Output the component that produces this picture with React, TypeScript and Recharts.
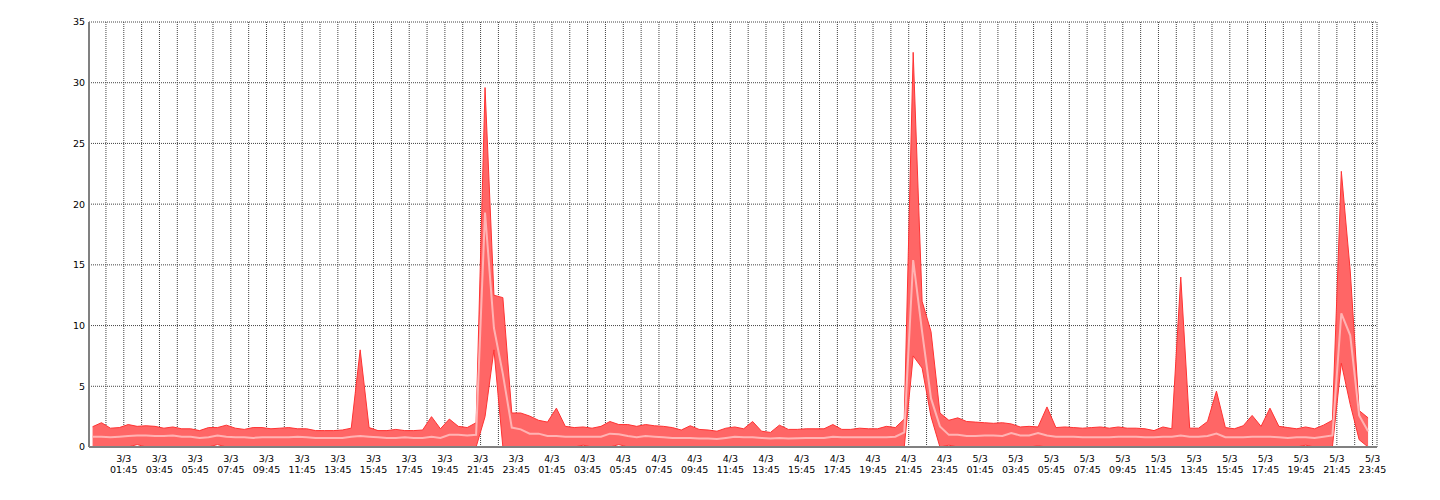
import React from 'react';
import { ComposedChart, Area, Line, XAxis, YAxis, CartesianGrid } from 'recharts';

// 30-minute samples from 3/3 00:00 to 5/3 23:30
const MAX_VALUES = [
  1.67, 2.0, 1.55, 1.6, 1.85, 1.7, 1.75, 1.7, 1.55, 1.65, 1.5, 1.5,
  1.35, 1.6, 1.6, 1.8, 1.55, 1.45, 1.6, 1.6, 1.5, 1.55, 1.6, 1.5,
  1.5, 1.35, 1.35, 1.35, 1.4, 1.55, 8.0, 1.6, 1.35, 1.35, 1.45, 1.35,
  1.35, 1.4, 2.5, 1.5, 2.3, 1.7, 1.6, 2.0, 29.6, 12.5, 12.3, 2.8,
  2.8, 2.55, 2.2, 2.05, 3.2, 1.7, 1.6, 1.65, 1.55, 1.7, 2.1, 1.85,
  1.85, 1.7, 1.85, 1.75, 1.7, 1.6, 1.4, 1.75, 1.45, 1.4, 1.3, 1.55,
  1.65, 1.5, 2.1, 1.3, 1.2, 1.8, 1.45, 1.45, 1.5, 1.5, 1.5, 1.85,
  1.45, 1.45, 1.55, 1.5, 1.5, 1.7, 1.6, 2.3, 32.5, 12.0, 9.5, 2.8,
  2.2, 2.4, 2.1, 2.05, 2.0, 1.95, 2.0, 1.9, 1.65, 1.7, 1.65, 3.3,
  1.6, 1.65, 1.6, 1.55, 1.6, 1.65, 1.55, 1.65, 1.55, 1.55, 1.5, 1.35,
  1.65, 1.5, 14.0, 1.55, 1.55, 2.1, 4.6, 1.6, 1.5, 1.75, 2.6, 1.7,
  3.2, 1.7, 1.6, 1.5, 1.65, 1.5, 1.8, 2.2, 22.7, 14.5, 3.0, 2.4,
];

const AVG_VALUES = [
  0.85, 0.85, 0.8, 0.85, 0.9, 0.95, 0.95, 0.9, 0.9, 0.95, 0.85, 0.85,
  0.75, 0.8, 0.95, 0.85, 0.8, 0.8, 0.75, 0.8, 0.8, 0.8, 0.8, 0.85,
  0.8, 0.75, 0.75, 0.75, 0.75, 0.85, 0.9, 0.85, 0.8, 0.75, 0.75, 0.8,
  0.75, 0.75, 0.85, 0.75, 1.0, 1.0, 0.95, 1.0, 19.3, 9.8, 6.0, 1.6,
  1.45, 1.1, 1.1, 0.9, 0.9, 0.85, 0.85, 0.85, 0.85, 0.85, 1.1, 1.05,
  0.9, 0.8, 0.9, 0.85, 0.8, 0.75, 0.75, 0.75, 0.7, 0.7, 0.65, 0.75,
  0.85, 0.8, 0.8, 0.75, 0.7, 0.75, 0.7, 0.72, 0.75, 0.75, 0.75, 0.85,
  0.8, 0.8, 0.8, 0.8, 0.8, 0.8, 0.85, 1.2, 15.4, 9.5, 4.0, 1.7,
  1.0, 1.0, 0.9, 0.9, 0.95, 0.95, 0.9, 1.15, 0.95, 0.95, 1.15, 0.95,
  0.85, 0.85, 0.85, 0.8, 0.8, 0.8, 0.8, 0.85, 0.85, 0.85, 0.8, 0.8,
  0.85, 0.85, 0.95, 0.85, 0.85, 0.9, 1.1, 0.8, 0.8, 0.8, 0.85, 0.85,
  0.85, 0.8, 0.75, 0.8, 0.8, 0.75, 0.85, 0.95, 11.0, 9.2, 2.6, 1.3,
];

const MIN_VALUES = [
  0, 0, 0, 0, 0, 0.2, 0, 0, 0, 0, 0, 0,
  0, 0, 0.2, 0, 0, 0, 0, 0, 0, 0, 0, 0,
  0, 0, 0, 0, 0, 0, 0, 0, 0, 0, 0, 0,
  0, 0, 0, 0, 0, 0, 0, 0, 2.5, 8.0, 0, 0,
  0, 0, 0, 0, 0, 0, 0, 0.15, 0, 0, 0, 0.2,
  0, 0, 0, 0, 0, 0, 0, 0, 0, 0, 0, 0,
  0, 0, 0, 0, 0, 0, 0, 0, 0, 0, 0, 0,
  0, 0, 0, 0, 0, 0, 0, 0, 7.5, 6.5, 2.5, 0,
  0.15, 0, 0, 0, 0, 0, 0, 0, 0, 0, 0.1, 0,
  0, 0, 0, 0, 0, 0, 0, 0, 0, 0, 0, 0,
  0, 0, 0, 0, 0, 0, 0, 0, 0, 0, 0, 0,
  0, 0, 0, 0, 0.15, 0, 0, 0, 6.9, 3.5, 0.6, 0,
];

const DAY_LABELS = ['3/3', '4/3', '5/3'];
const TIME_LABELS = ['01:45', '03:45', '05:45', '07:45', '09:45', '11:45', '13:45', '15:45', '17:45', '19:45', '21:45', '23:45'];
const Y_TICKS = [0, 5, 10, 15, 20, 25, 30, 35];
const STEP_HOURS = 0.5;
const HOURS_TOTAL = 72;

const data = MAX_VALUES.map((mx, i) => ({
  t: i * STEP_HOURS,
  range: [MIN_VALUES[i], mx],
  avg: AVG_VALUES[i],
}));

// hourly grid ticks at every xx:45
const X_TICKS = Array.from({ length: HOURS_TOTAL }, (_, i) => i + 0.75);

const FONT = 'DejaVu Sans, Verdana, sans-serif';

const XTick = (props: any) => {
  const { x, y, payload } = props;
  const h = Math.floor(payload.value);
  if (h % 2 === 0) return <g />;
  const day = DAY_LABELS[Math.floor(h / 24)];
  const time = TIME_LABELS[Math.floor((h % 24) / 2)];
  return (
    <g>
      <text x={x} y={y + 14.5} textAnchor="middle" fontSize={9.5} fill="#000" fontFamily={FONT}>
        {day}
      </text>
      <text x={x} y={y + 26} textAnchor="middle" fontSize={9.5} fill="#000" fontFamily={FONT}>
        {time}
      </text>
    </g>
  );
};

export default function App() {
  return (
    <div style={{ width: 1424, height: 484 }}>
      <ComposedChart
        width={1424}
        height={484}
        data={data}
        margin={{ top: 14, right: 55, bottom: 5, left: 0 }}
      >
        <CartesianGrid stroke="#444" strokeDasharray="1 1" />
        <Area
          type="linear"
          dataKey="range"
          stroke="#ff3333"
          strokeWidth={1}
          fill="#ff6666"
          fillOpacity={1}
          dot={false}
          activeDot={false}
          isAnimationActive={false}
        />
        <Line
          type="linear"
          dataKey="avg"
          stroke="#ffb3b3"
          strokeWidth={2}
          dot={false}
          activeDot={false}
          isAnimationActive={false}
        />
        <XAxis
          type="number"
          dataKey="t"
          domain={[-0.2, 72]}
          ticks={X_TICKS}
          interval={0}
          tick={<XTick />}
          tickLine={false}
          tickSize={0}
          tickMargin={0}
          height={40}
          axisLine={{ stroke: '#808080', strokeWidth: 2 }}
          allowDataOverflow
        />
        <YAxis
          type="number"
          domain={[0, 35]}
          ticks={Y_TICKS}
          interval={0}
          width={81}
          tickLine={false}
          tickSize={0}
          tickMargin={4}
          tick={{ fontSize: 9.5, fill: '#000', fontFamily: FONT }}
          axisLine={{ stroke: '#808080', strokeWidth: 2 }}
        />
      </ComposedChart>
    </div>
  );
}
